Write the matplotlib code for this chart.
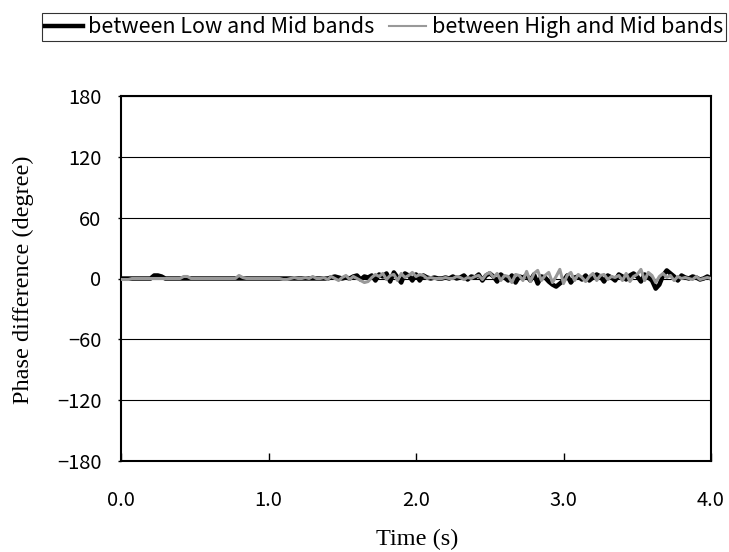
import numpy as np
import matplotlib
matplotlib.use("Agg")
import matplotlib.pyplot as plt

# time axis (s), 0.025 s resolution
t_start, t_step, n_pts = 0.0, 0.025, 161
time_s = t_start + t_step * np.arange(n_pts)

low_mid = [
    0, 0, 0, 0, 0, 0, 0, 0, 0, 3, 3, 2, 0, 0, 0, 0, 0, 0, 0, 0,
    0, 0, 0, 0, 0, 0, 0, 0, 0, 0, 0, 0, 0, 0, 0, 0, 0, 0, 0, 0,
    0, 0, 0, 0, 0, 0, 0, 0, 0, 0, 0, 0, 0, 0, 0, 0, 0, 1, 2, 1,
    0, 1, 0, 2, 3, -1, 2, 1, 3, -2, 4, 2, 5, -3, 6, 1, -4, 5, 3, -2,
    4, -2, 3, 1, 0, 1, 0, 0, 1, 0, 2, 0, 1, 3, -1, 2, 1, 4, -2, 3,
    5, 2, -3, 4, 1, -2, 3, -4, 2, 1, 3, -2, 4, -5, 2, 1, -3, -6, -8, -5,
    -2, 3, -4, 1, 2, -1, 3, -2, 1, 4, 2, -3, 3, 1, -2, 4, 2, -1, 3, 5,
    2, -3, 4, 1, -2, -10, -6, 3, 8, 5, 2, -2, 3, 1, 0, 2, 1, -1, 0, 2, 0,
]
high_mid = [
    -1, -1, -1, 0, 0, 0, 0, 0, 0, 0, 0, 0, 0, 0, 0, 0, 0, 2, 2, 0,
    0, 0, 0, 0, 0, 0, 0, 0, 0, 0, 0, 0, 3, 1, 0, 0, 0, 0, 0, 0,
    0, 0, 0, 0, -1, -1, 0, 1, 0, 0, 1, 0, 2, 0, 0, 1, -1, 2, 0, -2,
    1, 3, -1, 2, 0, -2, -4, -3, 1, 4, 2, 5, -1, 3, 4, -2, 5, 1, 3, 6,
    2, 4, 3, 0, 1, 0, 0, 0, 1, 0, 0, 2, 1, -1, 1, 0, 2, 3, -1, 4,
    6, 1, 5, -2, 3, 2, -4, 4, 3, -2, 7, -3, 5, 8, -2, 3, 6, -4, 2, 9,
    -5, 3, 6, -2, 4, 1, -3, 2, 5, -2, 3, 4, -1, 2, 1, 3, -2, 5, -3, 2,
    4, 9, -2, 6, 3, -4, 2, 5, 1, 3, -2, 2, 0, 1, 0, -1, 2, -1, 0, 1, 0,
]
series_labels = ["between Low and Mid bands", "between High and Mid bands"]
y_ticks = [-180, -120, -60, 0, 60, 120, 180]
x_ticks = [0.0, 1.0, 2.0, 3.0, 4.0]
x_ticklabels = ["0.0", "1.0", "2.0", "3.0", "4.0"]

sans = ["Noto Sans CJK JP", "DejaVu Sans"]
serif = ["Liberation Serif", "DejaVu Serif"]

W, H = 729, 552
fig = plt.figure(figsize=(W / 100, H / 100), dpi=100)
ax = fig.add_axes([121 / W, 1 - 461 / H, 590 / W, 365 / H])

ax.plot(time_s, low_mid, color="black", lw=3.2, solid_joinstyle="round", zorder=3)
ax.plot(time_s, high_mid, color="#999999", lw=2.2, zorder=4)

ax.set_xlim(0, 4)
ax.set_ylim(-180, 180)
ax.set_yticks(y_ticks)
ax.set_yticklabels([str(v).replace("-", "\u2212") for v in y_ticks], family=sans, fontsize=14.5)
ax.set_xticks(x_ticks)
ax.set_xticklabels(x_ticklabels, family=sans, fontsize=14.5)
ax.tick_params(axis="x", direction="in", length=6, width=1, pad=21)
ax.tick_params(axis="y", direction="out", length=2, width=1, pad=12)
ax.yaxis.grid(True, color="black", lw=0.8)
ax.set_axisbelow(True)
for s in ax.spines.values():
    s.set_linewidth(1.5)

fig.text(23 / W, 1 - 280 / H, "Phase difference (degree)", family=serif, fontsize=17.5,
         rotation=90, ha="center", va="center")
fig.text(417 / W, 1 - 539 / H, "Time (s)", family=serif, fontsize=17.5,
         ha="center", va="center")

h1 = plt.Line2D([], [], color="black", lw=3.2)
h2 = plt.Line2D([], [], color="#999999", lw=1.5)
leg = fig.legend([h1, h2], series_labels, loc="upper left",
                 bbox_to_anchor=(42 / W, 1 - 13 / H),
                 ncol=2, frameon=True, fancybox=False,
                 prop={"family": sans, "size": 15.5}, handlelength=1.75,
                 handletextpad=0.25, columnspacing=0.65, borderpad=0.15,
                 borderaxespad=0)
leg.get_frame().set_edgecolor("black")
leg.get_frame().set_linewidth(0.8)

fig.savefig("out.png", dpi=100)
